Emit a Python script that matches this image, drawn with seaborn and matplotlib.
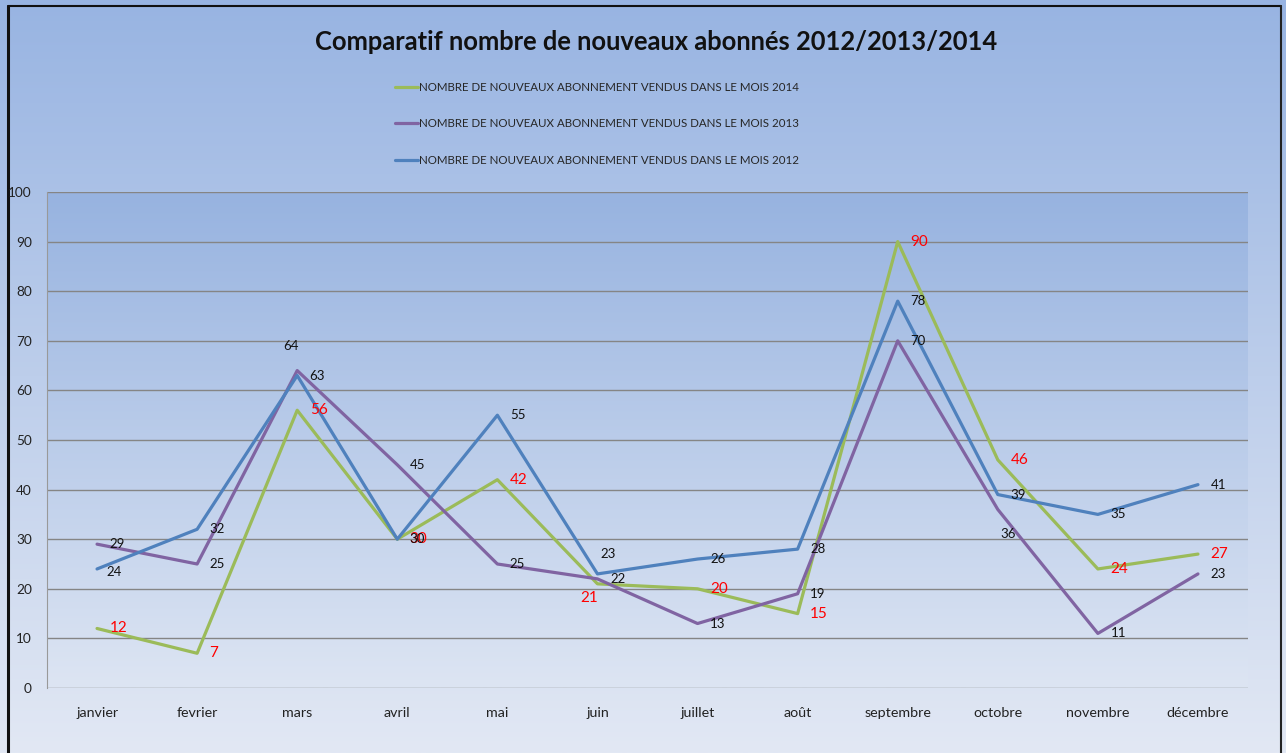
import numpy as np
import pandas as pd
import matplotlib
matplotlib.use("Agg")
import matplotlib.pyplot as plt
import seaborn as sns

## data
months = ["janvier", "fevrier", "mars", "avril", "mai", "juin",
          "juillet", "août", "septembre", "octobre", "novembre", "décembre"]
series_names = ["NOMBRE DE NOUVEAUX ABONNEMENT VENDUS DANS LE MOIS 2014",
                "NOMBRE DE NOUVEAUX ABONNEMENT VENDUS DANS LE MOIS 2013",
                "NOMBRE DE NOUVEAUX ABONNEMENT VENDUS DANS LE MOIS 2012"]
vals_2014 = [12, 7, 56, 30, 42, 21, 20, 15, 90, 46, 24, 27]
vals_2013 = [29, 25, 64, 45, 25, 22, 13, 19, 70, 36, 11, 23]
vals_2012 = [24, 32, 63, 30, 55, 23, 26, 28, 78, 39, 35, 41]
y_ticks = list(range(0, 101, 10))
title = "Comparatif nombre de nouveaux abonnés 2012/2013/2014"

colors = ["#9bbb59", "#8064a2", "#4f81bd"]

df = pd.DataFrame({
    "mois": months * 3,
    "x": list(range(len(months))) * 3,
    "valeur": vals_2014 + vals_2013 + vals_2012,
    "serie": [series_names[0]] * 12 + [series_names[1]] * 12 + [series_names[2]] * 12,
})

sns.set_style("white")
plt.rcParams["font.family"] = ["Lato", "DejaVu Sans"]

fig = plt.figure(figsize=(12.86, 7.53), dpi=100)

## background gradient for whole chart
bg = fig.add_axes([0, 0, 1, 1], zorder=-10)
grad = np.linspace(0, 1, 256).reshape(-1, 1)
cmap_bg = matplotlib.colors.LinearSegmentedColormap.from_list("bg", ["#98b4e2", "#e2e8f4"])
bg.imshow(grad, aspect="auto", cmap=cmap_bg, extent=[0, 1, 0, 1])
bg.set_xlim(0, 1)
bg.set_ylim(0, 1)
bg.axis("off")
# frame lines
bg.plot([0.006, 0.006], [0, 0.992], color="#111111", lw=2.2)
bg.plot([0.006, 0.996], [0.992, 0.992], color="#111111", lw=1.5)
bg.plot([0.996, 0.996], [0, 0.992], color="#222222", lw=1.5)

W, H = 1286, 753
ax = fig.add_axes([47 / W, 1 - 688 / H, (1248 - 47) / W, (688 - 192) / H])
ax.set_facecolor("none")
cmap_ax = matplotlib.colors.LinearSegmentedColormap.from_list("ax", ["#97b3e0", "#dde5f3"])
ax.imshow(grad, aspect="auto", cmap=cmap_ax, extent=[-0.5, 11.5, 0, 100], zorder=0)

sns.lineplot(data=df, x="x", y="valeur", hue="serie", hue_order=series_names,
             palette=colors, linewidth=2.3, ax=ax, zorder=3, legend=True)

ax.set_xlim(-0.5, 11.5)
ax.set_ylim(0, 100)
ax.set_yticks(y_ticks)
ax.set_xticks(range(len(months)))
ax.set_xticklabels(months)
ax.tick_params(axis="both", length=0, labelsize=9.8, colors="#222222")
ax.tick_params(axis="x", labelsize=10.3, pad=14)
ax.tick_params(axis="y", pad=11)
ax.grid(axis="y", color="#858585", linewidth=1.0, zorder=1)
ax.set_axisbelow(True)
for sp in ["top", "right", "bottom"]:
    ax.spines[sp].set_visible(False)
ax.spines["left"].set_color("#999999")
ax.set_xlabel("")
ax.set_ylabel("")

## data labels
special = {
    (1, 2): (-10, 18), (1, 9): (2, -18),
    (2, 5): (2, 14), (2, 0): (7, -2),
    (0, 5): (-12, -10),
}
for si, vals in enumerate([vals_2014, vals_2013, vals_2012]):
    for i, v in enumerate(vals):
        dx, dy = special.get((si, i), (9, 0))
        if si == 0:
            ax.annotate(str(v), (i, v), xytext=(dx, dy), textcoords="offset points",
                        color="red", fontsize=11, ha="left", va="center", zorder=5)
        else:
            ax.annotate(str(v), (i, v), xytext=(dx, dy), textcoords="offset points",
                        color="#111111", fontsize=9.5, ha="left", va="center", zorder=5)

## legend
handles, labels = ax.get_legend_handles_labels()
ax.get_legend().remove()
fig.legend(handles, labels, loc="center", bbox_to_anchor=(597 / W, 1 - 124 / H),
           frameon=False, fontsize=8.3, handlelength=2.0, handletextpad=0.1,
           labelspacing=2.2)

fig.text(0.51, 1 - 42 / H, title, ha="center", va="center",
         fontsize=18.4, fontweight="bold", color="#111111")

fig.savefig("out.png", dpi=100)
